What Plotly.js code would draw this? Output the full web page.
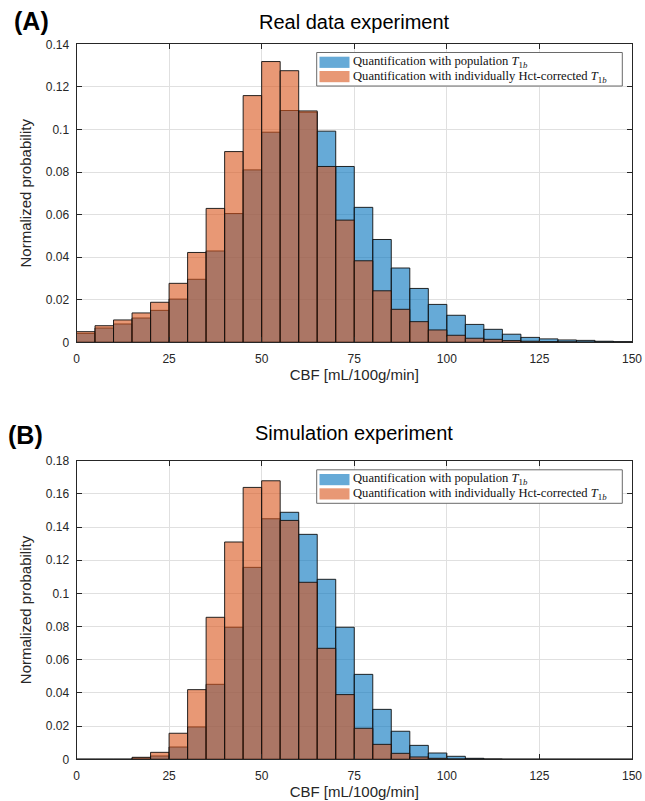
<!DOCTYPE html>
<html>
<head>
<meta charset="utf-8">
<script src="https://cdn.plot.ly/plotly-3.0.1.min.js"></script>
<style>
  html, body { margin: 0; padding: 0; background: #ffffff; }
  #chart { width: 645px; height: 801px; }
</style>
</head>
<body>
<div id="chart"></div>
<script>
// Bin centres (5 mL/100g/min bins from 0 to 150)
const binCenters = [2.5, 7.5, 12.5, 17.5, 22.5, 27.5, 32.5, 37.5, 42.5, 47.5,
                    52.5, 57.5, 62.5, 67.5, 72.5, 77.5, 82.5, 87.5, 92.5, 97.5,
                    102.5, 107.5, 112.5, 117.5, 122.5, 127.5, 132.5, 137.5, 142.5, 147.5];
const binWidth = 5;

// (A) Real data experiment
const realPopulation = [0.0042, 0.0067, 0.0086, 0.0114, 0.0150, 0.0203, 0.0296, 0.0429, 0.0605, 0.0810,
                        0.0987, 0.1089, 0.1081, 0.0992, 0.0826, 0.0634, 0.0483, 0.0349, 0.0253, 0.0178,
                        0.0127, 0.0084, 0.0061, 0.0038, 0.0023, 0.0016, 0.0011, 0.0009, 0.0005, 0.0003];
const realHctCorrected = [0.0050, 0.0078, 0.0105, 0.0138, 0.0188, 0.0277, 0.0422, 0.0629, 0.0896, 0.1159,
                          0.1319, 0.1276, 0.1087, 0.0826, 0.0574, 0.0383, 0.0242, 0.0155, 0.0097, 0.0058,
                          0.0033, 0.0019, 0.0014, 0.0008, 0.0005, 0.0003, 0.0002, 0.0001, 0.0001, 0];

// (B) Simulation experiment
const simPopulation = [0, 0, 0, 0.0008, 0.0020, 0.0074, 0.0195, 0.0452, 0.0796, 0.1157,
                       0.1450, 0.1489, 0.1356, 0.1085, 0.0796, 0.0512, 0.0301, 0.0169, 0.0084, 0.0038,
                       0.0018, 0.0006, 0.0002, 0, 0, 0, 0, 0, 0, 0];
const simHctCorrected = [0, 0, 0, 0.0012, 0.0042, 0.0157, 0.0420, 0.0856, 0.1310, 0.1639,
                         0.1679, 0.1440, 0.1067, 0.0669, 0.0390, 0.0187, 0.0090, 0.0036, 0.0014, 0.0006,
                         0.0002, 0.0001, 0, 0, 0, 0, 0, 0, 0, 0];

const seriesNames = [
  'Quantification with population <i>T</i><sub>1<i>b</i></sub>',
  'Quantification with individually Hct-corrected <i>T</i><sub>1<i>b</i></sub>'
];
const panelTitles = ['Real data experiment', 'Simulation experiment'];
const panelLabels = ['(A)', '(B)'];
const xTitle = 'CBF [mL/100g/min]';
const yTitle = 'Normalized probability';

const blueFill = 'rgba(0,114,189,0.6)';
const orangeFill = 'rgba(217,83,25,0.6)';
const seriesFills = [blueFill, orangeFill];
const edge = { color: 'rgba(15,15,15,0.9)', width: 1 };

function barTrace(y, name, fill, xa, ya) {
  return {
    type: 'bar', x: binCenters, y: y, width: binWidth, name: name,
    marker: { color: fill, line: edge },
    xaxis: xa, yaxis: ya, showlegend: false,
    hoverinfo: 'x+y'
  };
}

const data = [
  barTrace(realPopulation, seriesNames[0], blueFill, 'x', 'y'),
  barTrace(realHctCorrected, seriesNames[1], orangeFill, 'x', 'y'),
  barTrace(simPopulation, seriesNames[0], blueFill, 'x2', 'y2'),
  barTrace(simHctCorrected, seriesNames[1], orangeFill, 'x2', 'y2')
];

const W = 645, H = 801;
const px = v => v / W;
const py = v => 1 - v / H;

const axisCommon = {
  showline: true, linecolor: '#262626', linewidth: 1, mirror: 'ticks',
  ticks: 'inside', ticklen: 5, tickwidth: 1, tickcolor: '#262626',
  showgrid: true, gridcolor: '#e0e0e0', gridwidth: 1, zeroline: false,
  tickfont: { size: 12, color: '#262626' }, fixedrange: true
};

function xAxis(anchor) {
  return Object.assign({}, axisCommon, {
    domain: [px(76.5), px(632)], range: [0, 150], tick0: 0, dtick: 25, anchor: anchor,
    ticklabelstandoff: 5,
    title: { text: xTitle, font: { size: 15, color: '#262626' }, standoff: 4 }
  });
}
function yAxis(anchor, domain, maxv) {
  return Object.assign({}, axisCommon, {
    domain: domain, range: [0, maxv], tick0: 0, dtick: 0.02, anchor: anchor,
    ticklabelstandoff: 4,
    title: { text: yTitle, font: { size: 15, color: '#262626' }, standoff: 10 }
  });
}

// Legend boxes drawn in the MATLAB style (wide colour swatches)
const shapes = [];
const annotations = [];
function addLegend(topPx) {
  shapes.push({ type: 'rect', xref: 'paper', yref: 'paper', layer: 'above',
    x0: px(316.7), x1: px(622.3), y0: py(topPx), y1: py(topPx + 33.5),
    fillcolor: '#ffffff', line: { color: '#6a6a6a', width: 1 } });
  const swatchTop = [4.2, 18.5];
  const textMid = [9.2, 24.4];
  for (let i = 0; i < 2; i++) {
    shapes.push({ type: 'rect', xref: 'paper', yref: 'paper', layer: 'above',
      x0: px(319.5), x1: px(349.5), y0: py(topPx + swatchTop[i]), y1: py(topPx + swatchTop[i] + 11.2),
      fillcolor: seriesFills[i], line: { width: 0 } });
    annotations.push({ text: seriesNames[i], xref: 'paper', yref: 'paper',
      x: px(352), y: py(topPx + textMid[i]), xanchor: 'left', yanchor: 'middle', showarrow: false,
      borderpad: 0,
      font: { family: 'Liberation Serif, DejaVu Serif, serif', size: 12.6, color: '#111111' } });
  }
}
addLegend(52.5);
addLegend(469.8);

const annFont = { family: 'Liberation Sans, Arial, sans-serif', color: '#000000' };
annotations.push(
  { text: '<b>' + panelLabels[0] + '</b>', xref: 'paper', yref: 'paper', x: px(12), y: py(21.3),
    xanchor: 'left', yanchor: 'middle', showarrow: false, font: Object.assign({ size: 25 }, annFont) },
  { text: '<b>' + panelLabels[1] + '</b>', xref: 'paper', yref: 'paper', x: px(6), y: py(434.7),
    xanchor: 'left', yanchor: 'middle', showarrow: false, font: Object.assign({ size: 25 }, annFont) },
  { text: panelTitles[0], xref: 'paper', yref: 'paper', x: px(354), y: py(22.5),
    xanchor: 'center', yanchor: 'middle', showarrow: false, font: Object.assign({ size: 20 }, annFont) },
  { text: panelTitles[1], xref: 'paper', yref: 'paper', x: px(354), y: py(432.5),
    xanchor: 'center', yanchor: 'middle', showarrow: false, font: Object.assign({ size: 20 }, annFont) }
);

const layout = {
  width: W, height: H,
  margin: { l: 0, r: 0, t: 0, b: 0 },
  paper_bgcolor: '#ffffff', plot_bgcolor: '#ffffff',
  font: { family: 'Liberation Sans, Arial, sans-serif', color: '#262626' },
  barmode: 'overlay', bargap: 0, showlegend: false,
  xaxis: xAxis('y'),
  yaxis: yAxis('x', [py(342.3), py(44.3)], 0.14),
  xaxis2: xAxis('y2'),
  yaxis2: yAxis('x2', [py(759.3), py(460.7)], 0.18),
  shapes: shapes,
  annotations: annotations
};

Plotly.newPlot('chart', data, layout, { displayModeBar: false, staticPlot: true });
</script>
</body>
</html>
